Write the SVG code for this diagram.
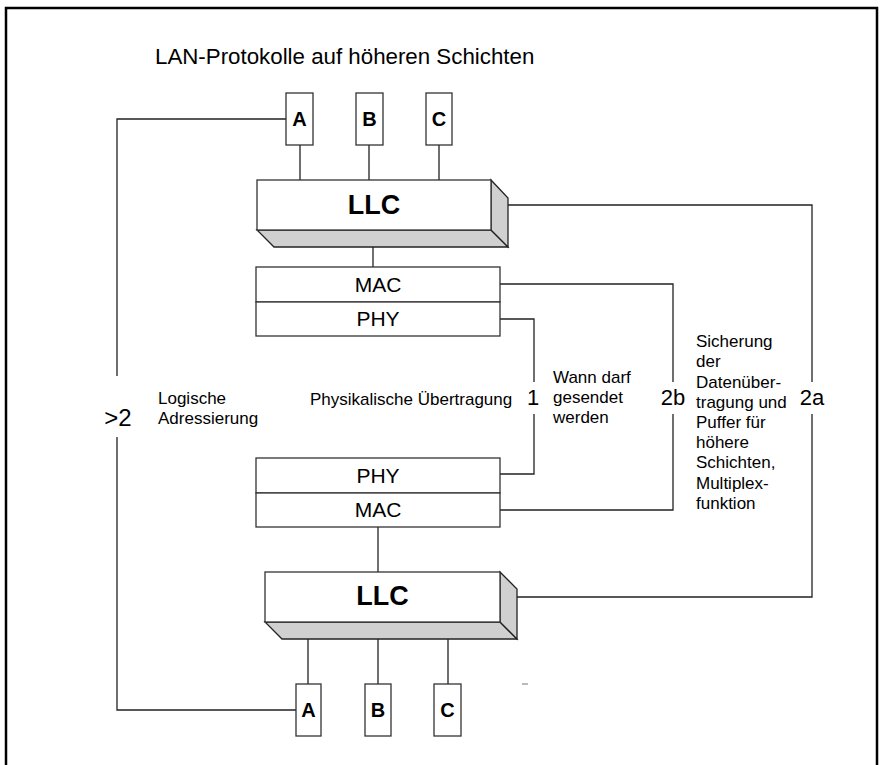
<svg xmlns="http://www.w3.org/2000/svg" width="880" height="765" viewBox="0 0 880 765">
  <style>
    text { font-family: "Liberation Sans", Arial, sans-serif; fill: #000; }
    .frame { fill: none; stroke: #000; stroke-width: 2.5; }
    .box { fill: #fff; stroke: #333; stroke-width: 1.3; }
    .face { fill: #d0d0d0; stroke: #222; stroke-width: 1.3; stroke-linejoin: miter; }
    .wire { fill: none; stroke: #222; stroke-width: 1.3; }
    .key { font-size: 20px; font-weight: bold; text-anchor: middle; }
    .llc { font-size: 27px; font-weight: bold; text-anchor: middle; }
    .layer { font-size: 21px; text-anchor: middle; }
    .note { font-size: 17px; }
    .num { font-size: 22px; text-anchor: middle; }
    .title { font-size: 22.3px; }
  </style>

  <!-- outer frame (open at the bottom edge) -->
  <path class="frame" d="M6,770 V8 H877 V770"/>

  <text class="title" x="155" y="64">LAN-Protokolle auf höheren Schichten</text>

  <!-- connectors -->
  <g id="connectors">
    <!-- upper protocol boxes to upper LLC -->
    <path class="wire" d="M300,145 V180 M369,145 V180 M439,145 V180"/>
    <!-- upper LLC to upper MAC -->
    <path class="wire" d="M373,247 V267"/>
    <!-- lower MAC to lower LLC -->
    <path class="wire" d="M378,527 V572"/>
    <!-- lower LLC to lower protocol boxes -->
    <path class="wire" d="M308,639 V684 M378,639 V684 M448,639 V684"/>
    <!-- >2 : A to A, logical addressing -->
    <path class="wire" d="M286,119 H117 V376 M117,437 V710 H296"/>
    <!-- 1 : PHY to PHY -->
    <path class="wire" d="M500,319 H534 V382 M534,414 V474 H500"/>
    <!-- 2b : MAC to MAC -->
    <path class="wire" d="M500,284 H673 V382 M673,414 V510 H500"/>
    <!-- 2a : LLC to LLC -->
    <path class="wire" d="M508,205 H812 V382 M812,414 V597 H517"/>
  </g>

  <!-- upper protocol boxes -->
  <g id="top-a"><rect class="box" x="286" y="93" width="27" height="52"/><text class="key" x="299.5" y="126">A</text></g>
  <g id="top-b"><rect class="box" x="356" y="93" width="27" height="52"/><text class="key" x="369.5" y="126">B</text></g>
  <g id="top-c"><rect class="box" x="426" y="93" width="26" height="52"/><text class="key" x="439" y="126">C</text></g>

  <!-- upper LLC block -->
  <g id="top-llc">
    <polygon class="face" points="257,230 491,230 508,247 274,247"/>
    <polygon class="face" points="491,180 508,198 508,247 491,230"/>
    <rect class="box" x="257" y="180" width="234" height="50" stroke="#222"/>
    <text class="llc" x="374" y="214">LLC</text>
  </g>

  <!-- upper MAC / PHY -->
  <g id="top-mac"><rect class="box" x="256" y="267" width="244" height="35"/><text class="layer" x="378" y="292">MAC</text></g>
  <g id="top-phy"><rect class="box" x="256" y="302" width="244" height="34"/><text class="layer" x="378" y="326">PHY</text></g>

  <!-- lower PHY / MAC -->
  <g id="bottom-phy"><rect class="box" x="256" y="458" width="244" height="35"/><text class="layer" x="378" y="483">PHY</text></g>
  <g id="bottom-mac"><rect class="box" x="256" y="493" width="244" height="34"/><text class="layer" x="378" y="517">MAC</text></g>

  <!-- lower LLC block -->
  <g id="bottom-llc">
    <polygon class="face" points="265,622 500,622 517,639 282,639"/>
    <polygon class="face" points="500,572 517,589 517,639 500,622"/>
    <rect class="box" x="265" y="572" width="235" height="50" stroke="#222"/>
    <text class="llc" x="382.5" y="605">LLC</text>
  </g>

  <!-- lower protocol boxes -->
  <g id="bottom-a"><rect class="box" x="296" y="684" width="25" height="52"/><text class="key" x="308.5" y="717">A</text></g>
  <g id="bottom-b"><rect class="box" x="365" y="684" width="26" height="52"/><text class="key" x="378" y="717">B</text></g>
  <g id="bottom-c"><rect class="box" x="434" y="684" width="27" height="52"/><text class="key" x="447.5" y="717">C</text></g>

  <!-- connector labels -->
  <g id="labels">
    <text class="num" x="118" y="426" style="font-size:24px">&gt;2</text>
    <text class="note" x="158" y="404">Logische</text>
    <text class="note" x="158" y="424">Adressierung</text>

    <text class="note" x="310" y="405">Physikalische Übertragung</text>
    <text class="num" x="533" y="405">1</text>

    <text class="note" x="553" y="383">Wann darf</text>
    <text class="note" x="553" y="403">gesendet</text>
    <text class="note" x="553" y="423">werden</text>

    <text class="num" x="673" y="405">2b</text>

    <text class="note" x="696" y="347">Sicherung</text>
    <text class="note" x="696" y="367">der</text>
    <text class="note" x="696" y="388">Datenüber-</text>
    <text class="note" x="696" y="408">tragung und</text>
    <text class="note" x="696" y="428">Puffer für</text>
    <text class="note" x="696" y="448">höhere</text>
    <text class="note" x="696" y="468">Schichten,</text>
    <text class="note" x="696" y="489">Multiplex-</text>
    <text class="note" x="696" y="509">funktion</text>

    <text class="num" x="812" y="405">2a</text>
  </g>

  <!-- stray mark -->
  <path d="M522,684 H528" stroke="#777" stroke-width="1"/>
</svg>
